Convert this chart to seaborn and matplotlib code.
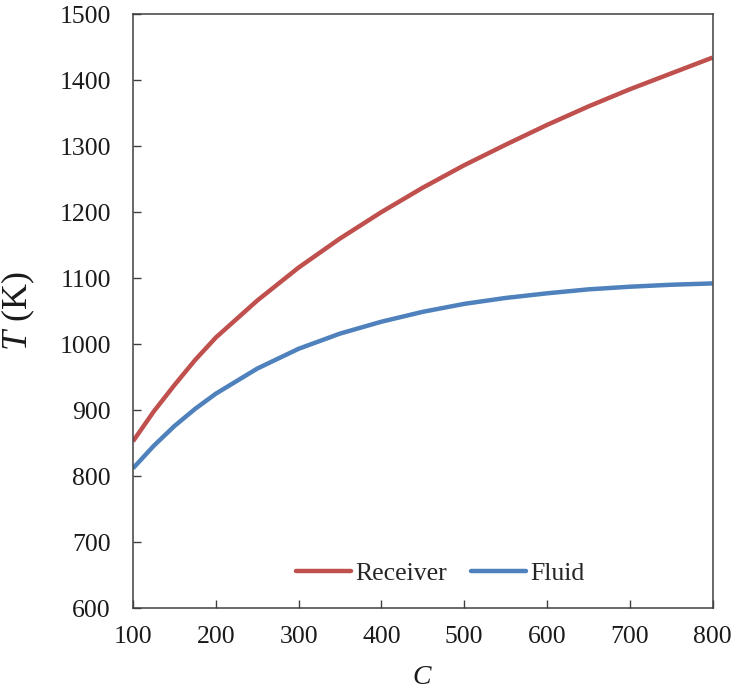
import matplotlib
matplotlib.use("Agg")
import matplotlib.pyplot as plt
import seaborn as sns
import pandas as pd

# Concentration ratio C and the resulting temperatures (K)
concentration = [100, 125, 150, 175, 200, 250, 300, 350, 400, 450, 500, 550, 600, 650, 700, 750, 800]
receiver_temp = [853, 898, 938, 976, 1010, 1066, 1116, 1160, 1200, 1237, 1271, 1302, 1332, 1360, 1386, 1410, 1434]
fluid_temp = [812, 846, 876, 902, 925, 963, 993, 1016, 1034, 1049, 1061, 1070, 1077, 1083, 1087, 1090, 1092]
series_names = ["Receiver", "Fluid"]
x_ticks = [100, 200, 300, 400, 500, 600, 700, 800]
y_ticks = [600, 700, 800, 900, 1000, 1100, 1200, 1300, 1400, 1500]

df = pd.DataFrame({
    "C": concentration * 2,
    "T": receiver_temp + fluid_temp,
    "series": [series_names[0]] * len(concentration) + [series_names[1]] * len(concentration),
})

sns.set_theme(style="white")
plt.rcParams["font.family"] = ["Liberation Serif", "DejaVu Serif"]
plt.rcParams["mathtext.fontset"] = "custom"
plt.rcParams["mathtext.it"] = "Liberation Serif:italic"
plt.rcParams["mathtext.rm"] = "Liberation Serif"
plt.rcParams["lines.solid_capstyle"] = "butt"
plt.rcParams["lines.solid_joinstyle"] = "round"

fig = plt.figure(figsize=(7.37, 6.94), dpi=100)
ax = fig.add_axes([0.1805, 0.1235, 0.7863, 0.8563])

palette = {"Receiver": "#C0504D", "Fluid": "#4F81BD"}
sns.lineplot(data=df, x="C", y="T", hue="series", palette=palette,
             linewidth=3.2, ax=ax, legend=True)

ax.set_xlim(100, 800)
ax.set_ylim(600, 1500)
ax.set_xticks(x_ticks)
ax.set_yticks(y_ticks)

for side in ["left", "bottom", "top", "right"]:
    ax.spines[side].set_visible(True)
    ax.spines[side].set_color("#404040")
    ax.spines[side].set_linewidth(1.1)

ax.tick_params(axis="both", which="major", direction="in", length=5.8, width=1.0,
               color="#404040", labelsize=18.5, labelcolor="#1a1a1a",
               left=True, bottom=True, top=False, right=False)
ax.tick_params(axis="y", pad=16)
ax.tick_params(axis="x", pad=13)

ax.set_xlabel(r"$C$", fontsize=20, color="#1a1a1a", labelpad=12)
ax.set_ylabel(r"$T$ (K)", fontsize=26, color="#1a1a1a", labelpad=16)

leg = ax.legend(loc="center", bbox_to_anchor=(0.53, 0.059), ncol=2, frameon=False,
                fontsize=18.5, handlelength=2.15, handletextpad=0.15,
                columnspacing=0.95, borderpad=0.2)
for line in leg.get_lines():
    line.set_linewidth(3.2)
    line.set_solid_capstyle("round")

fig.savefig("out.png", dpi=100, facecolor="white")
